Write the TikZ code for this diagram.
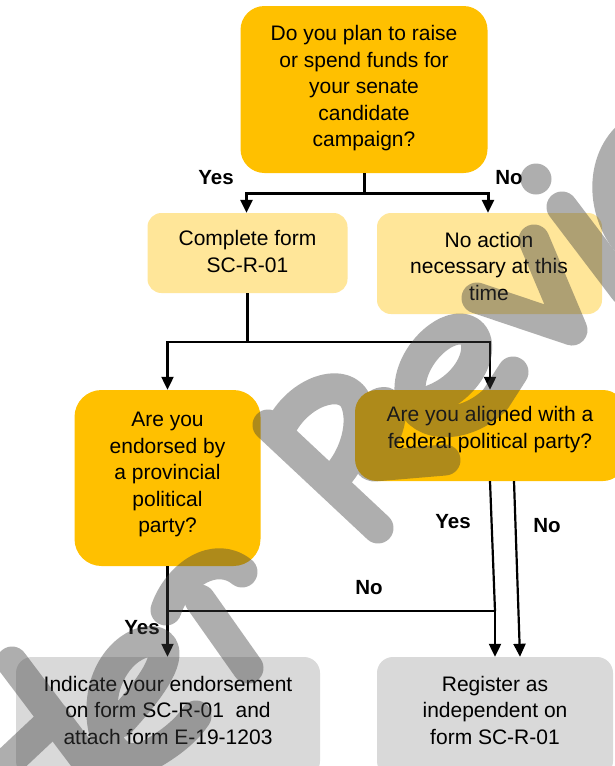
\documentclass[tikz,border=0pt]{standalone}
\usepackage{fontspec}
\setmainfont{Liberation Sans}
\usetikzlibrary{arrows.meta,calc}
\definecolor{qorange}{HTML}{FFC000}
\definecolor{ayellow}{HTML}{FFE699}
\definecolor{rgray}{HTML}{D9D9D9}
\definecolor{wmgray}{HTML}{404040}
\begin{document}
\begin{tikzpicture}[x=1pt,y=-1pt,
  qbox/.style={fill=qorange, draw=none, inner sep=0pt, rectangle},
  abox/.style={fill=ayellow, draw=none, inner sep=0pt, rectangle, rounded corners=14pt},
  rbox/.style={fill=rgray, draw=none, inner sep=0pt, rectangle, rounded corners=16pt},
  txt/.style={align=center, inner sep=0pt, font=\fontsize{21}{26.5}\selectfont},
  lab/.style={inner sep=0pt, font=\fontsize{20.5}{24}\selectfont\bfseries},
  conn/.style={draw=black, line width=2.2pt},
  arr/.style={conn, -{Triangle[width=12pt,length=13pt]}},
  wm/.style={draw=wmgray, line width=31pt, line cap=round, line join=round}]
\useasboundingbox (0,0) rectangle (615,766);
\fill[white] (0,0) rectangle (615,766);

% boxes
\node[qbox, rounded corners=24pt, minimum width=247pt, minimum height=167pt] (q1) at (364,89.5) {};
\node[abox, minimum width=200pt, minimum height=80pt] (a1) at (247.5,253) {};
\node[abox, minimum width=225pt, minimum height=101pt] (a2) at (489.5,263.5) {};
\node[qbox, rounded corners=27pt, minimum width=186pt, minimum height=176pt] (q2) at (167.5,478) {};
\node[qbox, rounded corners=22pt, minimum width=270pt, minimum height=91pt] (q3) at (490,435.5) {};
\node[rbox, minimum width=304pt, minimum height=120pt] (r1) at (168,717) {};
\node[rbox, minimum width=236pt, minimum height=120pt] (r2) at (495,717) {};

% texts
\node[txt] (q1t) at (364,88.5) {Do you plan to raise\\or spend funds for\\your senate\\candidate\\campaign?};
\node[txt] (a1t) at (247.5,251.5) {Complete form\\SC-R-01};
\node[txt] (a2t) at (489,266) {No action\\necessary at this\\time};
\node[txt] (q2t) at (167.5,474.5) {Are you\\endorsed by\\a provincial\\political\\party?};
\node[txt] (q3t) at (490,429.5) {Are you aligned with a\\federal political party?};
\node[txt] (r1t) at (168,710) {Indicate your endorsement\\on form SC-R-01\ \ and\\attach form E-19-1203};
\node[txt] (r2t) at (495,710) {Register as\\independent on\\form SC-R-01};

% connectors
\coordinate (j1) at (364,193);
\draw[conn, line width=3pt] (q1.south) -- (j1);
\draw[arr, line width=3pt] (j1) -| ($(a1.north)+(-1,0)$);
\draw[arr, line width=3pt] (j1) -| ($(a2.north)+(-1.5,0)$);

\coordinate (j2) at (247.5,342);
\draw[conn] (a1.south) -- (j2);
\draw[arr] (j2) -| (q2.north);
\draw[arr] (j2) -| (q3.north);

\coordinate (j3) at (167.5,611);
\coordinate (j4) at (495,611);
\draw[arr] (q2.south) -- (q2.south |- r1.north);
\draw[conn] (j3) -- (j4);
\draw[conn] (q3.south) -- (j4);
\draw[arr] (j4) -- (r2.north);
\draw[arr] ($(q3.south)+(24,0)$) -- ($(r2.north)+(25,0)$);

% labels
\node[lab] (l1) at (216,178) {Yes};
\node[lab] (l2) at (509,178) {No};
\node[lab] (l3) at (453,522) {Yes};
\node[lab] (l4) at (547,526) {No};
\node[lab] (l5) at (369,588) {No};
\node[lab] (l6) at (142,628) {Yes};

% watermark
\begin{scope}[transparency group, opacity=0.42]
  \draw[wm] (12,662) -- (95,772);
  \draw[wm] (5,765) -- (55,718);
  \draw[wm] (120,722) .. controls (140,700) and (170,665) .. (163,648) .. controls (155,632) and (115,645) .. (104,690) .. controls (95,735) and (115,775) .. (155,752) .. controls (175,740) and (188,728) .. (196,716);
  \draw[wm] (166,610) .. controls (178,575) and (215,550) .. (242,572);
  \draw[wm] (200,600) -- (248,668);
  \draw[wm] (268,425) -- (378,528);
  \draw[wm] (282,425) .. controls (300,392) and (340,378) .. (354,398) .. controls (366,420) and (356,458) .. (333,480);
  \draw[wm] (362,432) .. controls (368,400) and (395,392) .. (390,418) .. controls (386,445) and (362,466) .. (374,466) -- (445,460);
  \draw[wm] (415,405) .. controls (470,395) and (488,345) .. (470,332) .. controls (450,318) and (408,355) .. (410,392) .. controls (412,428) and (462,432) .. (495,400) -- (513,372);
  \draw[wm] (534,240) -- (572,330) -- (477,298);
  \fill[wmgray] (536,179) circle (15.5pt);
  \draw[wm] (562,207) -- (625,290);
  \draw[wm] (640,128) .. controls (600,150) and (598,210) .. (630,245);
\end{scope}
\end{tikzpicture}
\end{document}
